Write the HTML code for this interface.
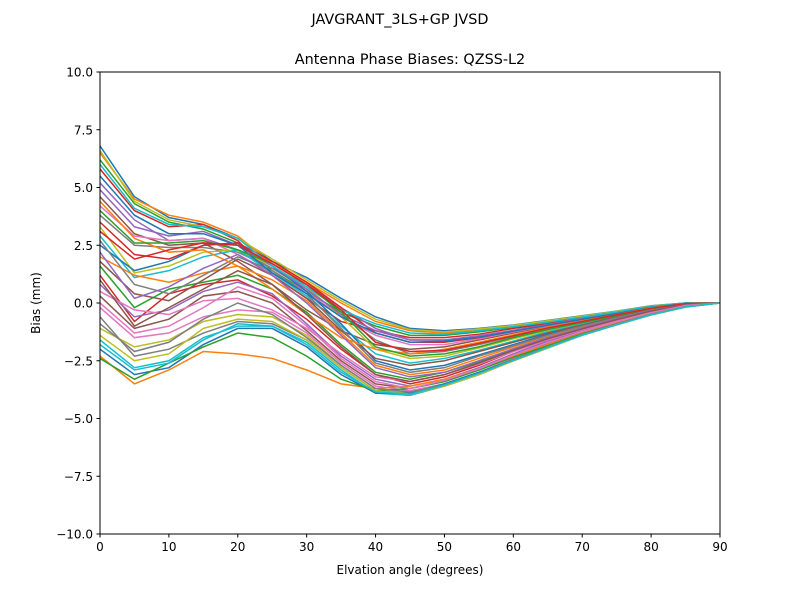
<!DOCTYPE html>
<html><head><meta charset="utf-8"><style>
body{margin:0;background:#fff;}
svg text{font-family:"DejaVu Sans","Liberation Sans",sans-serif;fill:#000;}
</style></head><body>
<svg id="chart" width="800" height="600" viewBox="0 0 800 600" xmlns="http://www.w3.org/2000/svg">
<rect width="800" height="600" fill="#fff"/>
<text x="400" y="24" font-size="14.4" text-anchor="middle">JAVGRANT_3LS+GP JVSD</text>
<text x="410" y="64" font-size="14.4" text-anchor="middle">Antenna Phase Biases: QZSS-L2</text>
<defs><clipPath id="pc"><rect x="100" y="72" width="620" height="462"/></clipPath></defs>
<g id="lines" clip-path="url(#pc)"></g>
<rect x="100" y="72" width="620" height="462" fill="none" stroke="#000" stroke-width="1"/>
<g id="axes"></g>
<text x="410" y="574" font-size="12" text-anchor="middle">Elvation angle (degrees)</text>
<text transform="translate(40,303) rotate(-90)" font-size="12" text-anchor="middle">Bias (mm)</text>
</svg>
<script>
const elevations=[0,5,10,15,20,25,30,35,40,45,50,55,60,65,70,75,80,85,90];
const xTicks=[0,10,20,30,40,50,60,70,80,90];
const yTicks=[-10,-7.5,-5,-2.5,0,2.5,5,7.5,10];
const yTickLabels=["\u221210.0","\u22127.5","\u22125.0","\u22122.5","0.0","2.5","5.0","7.5","10.0"];
const series=[
[6.8,4.6,3.7,3.4,2.8,1.8,1.1,0.2,-0.6,-1.1,-1.2,-1.1,-0.95,-0.75,-0.55,-0.35,-0.12,0,0],
[6.5,4.5,3.8,3.5,2.9,1.7,0.9,0,-0.8,-1.2,-1.3,-1.15,-1,-0.8,-0.6,-0.38,-0.14,0,0],
[6.2,4.3,3.5,3.2,2.6,1.4,0.5,-0.4,-1.0,-1.4,-1.4,-1.25,-1.05,-0.85,-0.62,-0.4,-0.15,0,0],
[5.8,4.0,3.3,3.4,2.7,1.2,0.2,-0.8,-1.2,-1.5,-1.5,-1.35,-1.1,-0.9,-0.65,-0.42,-0.16,0,0],
[5.2,3.6,2.7,2.8,2.3,1.5,0.8,-0.2,-1.1,-1.6,-1.6,-1.45,-1.2,-0.95,-0.7,-0.45,-0.18,-0.02,0],
[4.6,3.0,2.5,2.6,1.8,0.8,-0.3,-1.2,-1.8,-2.0,-1.9,-1.6,-1.3,-1.0,-0.75,-0.48,-0.2,-0.02,0],
[4.2,2.9,2.7,2.8,2.1,1.3,0.5,-0.6,-1.4,-1.8,-1.8,-1.55,-1.25,-0.98,-0.72,-0.46,-0.2,-0.02,0],
[3.8,2.5,2.4,2.4,2.2,1.5,0.6,-0.5,-1.6,-2.2,-2.1,-1.8,-1.45,-1.1,-0.82,-0.52,-0.22,-0.03,0],
[3.3,1.3,1.6,2.2,2.3,1.6,0.7,-0.6,-2.0,-2.4,-2.3,-1.95,-1.55,-1.2,-0.88,-0.56,-0.25,-0.04,0],
[2.9,1.1,1.4,2.0,2.3,1.3,0.3,-1.0,-2.2,-2.6,-2.4,-2.05,-1.65,-1.25,-0.92,-0.58,-0.27,-0.05,0],
[2.5,1.4,1.8,2.5,2.6,1.6,0.5,-0.9,-2.5,-2.9,-2.7,-2.25,-1.8,-1.35,-0.98,-0.62,-0.3,-0.06,0],
[2.0,1.2,0.9,1.3,1.6,1.0,0.1,-1.3,-2.7,-3.1,-2.9,-2.4,-1.9,-1.45,-1.04,-0.66,-0.32,-0.07,0],
[1.6,-0.2,0.6,0.9,1.2,0.6,-0.4,-1.8,-3.0,-3.3,-3.0,-2.55,-2.0,-1.5,-1.1,-0.7,-0.34,-0.08,0],
[1.2,-0.8,0.4,0.8,1.0,0.3,-0.7,-2.0,-3.1,-3.5,-3.2,-2.7,-2.1,-1.6,-1.15,-0.74,-0.36,-0.09,0],
[0.8,-0.6,-0.3,0.5,0.9,0.4,-0.9,-2.3,-3.3,-3.6,-3.3,-2.8,-2.2,-1.65,-1.2,-0.78,-0.4,-0.1,0],
[0.3,-1.1,-0.7,0.3,0.5,0.0,-1.2,-2.5,-3.5,-3.7,-3.4,-2.9,-2.3,-1.75,-1.25,-0.82,-0.43,-0.12,0],
[-0.2,-1.5,-1.3,-0.6,-0.3,-0.4,-1.3,-2.6,-3.6,-3.8,-3.5,-3.0,-2.4,-1.85,-1.3,-0.86,-0.46,-0.14,0],
[-0.6,-2.3,-2.0,-1.3,-0.8,-0.9,-1.6,-2.8,-3.8,-3.9,-3.6,-3.1,-2.5,-1.95,-1.38,-0.92,-0.5,-0.16,0],
[-1.1,-1.9,-1.6,-0.8,-0.5,-0.6,-1.4,-2.7,-3.7,-3.9,-3.5,-3.0,-2.45,-1.9,-1.35,-0.9,-0.48,-0.15,0],
[-1.6,-2.8,-2.5,-1.5,-1.0,-1.0,-1.7,-2.9,-3.9,-4.0,-3.6,-3.1,-2.5,-1.95,-1.4,-0.95,-0.52,-0.18,0],
[-2.0,-3.1,-2.8,-1.8,-1.1,-1.1,-1.9,-3.1,-3.9,-3.9,-3.5,-3.0,-2.45,-1.9,-1.38,-0.93,-0.5,-0.17,0],
[-2.3,-3.5,-2.9,-2.1,-2.2,-2.4,-2.9,-3.5,-3.7,-3.6,-3.3,-2.85,-2.3,-1.8,-1.3,-0.88,-0.47,-0.15,0],
[-2.4,-3.3,-2.6,-1.9,-1.3,-1.5,-2.3,-3.3,-3.8,-3.7,-3.4,-2.9,-2.35,-1.85,-1.33,-0.9,-0.48,-0.16,0],
[3.5,2.1,1.9,2.5,2.6,1.8,0.9,-0.2,-1.3,-1.7,-1.7,-1.5,-1.22,-0.96,-0.7,-0.45,-0.19,-0.02,0],
[4.9,3.3,2.9,3.1,2.5,1.6,0.6,-0.5,-1.2,-1.6,-1.6,-1.42,-1.18,-0.93,-0.68,-0.44,-0.18,-0.02,0],
[1.8,0.4,0.1,1.0,1.9,1.2,0.2,-1.2,-2.4,-2.7,-2.5,-2.1,-1.7,-1.3,-0.95,-0.6,-0.28,-0.05,0],
[0.5,-0.3,-0.5,0.1,0.2,-0.3,-1.1,-2.2,-3.2,-3.4,-3.1,-2.65,-2.1,-1.6,-1.15,-0.75,-0.38,-0.1,0],
[2.7,0.8,0.4,1.2,2.0,1.4,0.4,-1.1,-2.6,-3.0,-2.8,-2.3,-1.85,-1.4,-1.0,-0.64,-0.31,-0.07,0],
[6.6,4.4,3.6,3.3,2.8,1.9,1.0,0.1,-0.7,-1.15,-1.25,-1.12,-0.97,-0.77,-0.57,-0.36,-0.13,0,0],
[6.0,4.1,3.4,3.3,2.8,1.6,0.7,-0.3,-0.9,-1.3,-1.35,-1.2,-1.03,-0.83,-0.61,-0.39,-0.15,0,0],
[5.5,3.8,3.0,3.0,2.5,1.3,0.4,-0.6,-1.3,-1.7,-1.65,-1.48,-1.22,-0.96,-0.71,-0.46,-0.19,-0.02,0],
[4.4,2.8,2.2,2.3,1.6,0.6,-0.5,-1.5,-2.0,-2.2,-2.0,-1.7,-1.38,-1.05,-0.78,-0.5,-0.21,-0.03,0],
[4.0,2.6,2.6,2.7,2.3,1.7,0.8,-0.4,-1.9,-2.3,-2.2,-1.9,-1.5,-1.15,-0.85,-0.54,-0.24,-0.04,0],
[3.1,1.9,2.3,2.6,2.5,1.7,0.8,-0.3,-1.7,-2.1,-2.05,-1.75,-1.42,-1.08,-0.8,-0.51,-0.23,-0.03,0],
[2.2,0.2,0.7,1.5,2.1,1.2,0.0,-1.4,-2.8,-3.2,-3.0,-2.5,-1.98,-1.5,-1.08,-0.69,-0.33,-0.08,0],
[1.0,-1.0,-0.2,0.6,1.4,0.8,-0.5,-1.9,-3.1,-3.4,-3.1,-2.6,-2.05,-1.55,-1.12,-0.72,-0.35,-0.09,0],
[0.0,-1.3,-1.0,-0.2,0.7,0.2,-1.0,-2.4,-3.4,-3.7,-3.35,-2.85,-2.25,-1.72,-1.23,-0.8,-0.42,-0.11,0],
[-0.9,-2.1,-1.7,-0.7,0.0,-0.5,-1.5,-2.7,-3.7,-3.85,-3.55,-3.05,-2.45,-1.9,-1.36,-0.9,-0.49,-0.15,0],
[-1.4,-2.5,-2.2,-1.1,-0.7,-0.8,-1.6,-2.8,-3.8,-3.95,-3.6,-3.1,-2.5,-1.95,-1.4,-0.94,-0.51,-0.17,0],
[-1.8,-2.9,-2.6,-1.6,-0.9,-1.0,-1.8,-3.0,-3.85,-3.95,-3.55,-3.05,-2.48,-1.92,-1.39,-0.94,-0.51,-0.17,0]
];
const colors=["#1f77b4","#ff7f0e","#2ca02c","#d62728","#9467bd","#8c564b","#e377c2","#7f7f7f","#bcbd22","#17becf"];
const NS="http://www.w3.org/2000/svg";
const X0=100,X1=720,Y0=534,Y1=72;
function xs(v){return X0+(v-0)/(90-0)*(X1-X0);}
function ys(v){return Y0-(v-(-10))/(20)*(Y0-Y1);}
const lg=document.getElementById('lines');
series.forEach((s,i)=>{
  const p=document.createElementNS(NS,'polyline');
  p.setAttribute('points',s.map((v,j)=>xs(elevations[j]).toFixed(2)+','+ys(v).toFixed(2)).join(' '));
  p.setAttribute('fill','none');
  p.setAttribute('stroke',colors[i%colors.length]);
  p.setAttribute('stroke-width','1.5');
  
  
  lg.appendChild(p);
});
const ax=document.getElementById('axes');
xTicks.forEach(t=>{
  const l=document.createElementNS(NS,'line');
  l.setAttribute('x1',xs(t));l.setAttribute('x2',xs(t));l.setAttribute('y1',Y0);l.setAttribute('y2',Y0+3.5);
  l.setAttribute('stroke','#000');
  
  
  ax.appendChild(l);
  const tx=document.createElementNS(NS,'text');
  tx.setAttribute('x',xs(t));tx.setAttribute('y',Y0+17);tx.setAttribute('font-size','12');tx.setAttribute('text-anchor','middle');
  tx.textContent=t;
  
  
  ax.appendChild(tx);
});
yTicks.forEach((t,i)=>{
  const l=document.createElementNS(NS,'line');
  l.setAttribute('x1',X0-3.5);l.setAttribute('x2',X0);l.setAttribute('y1',ys(t));l.setAttribute('y2',ys(t));
  l.setAttribute('stroke','#000');
  
  
  ax.appendChild(l);
  const tx=document.createElementNS(NS,'text');
  tx.setAttribute('x',X0-7);tx.setAttribute('y',ys(t)+4.5);tx.setAttribute('font-size','12');tx.setAttribute('text-anchor','end');
  tx.textContent=yTickLabels[i];
  
  
  ax.appendChild(tx);
});
</script>
</body></html>
